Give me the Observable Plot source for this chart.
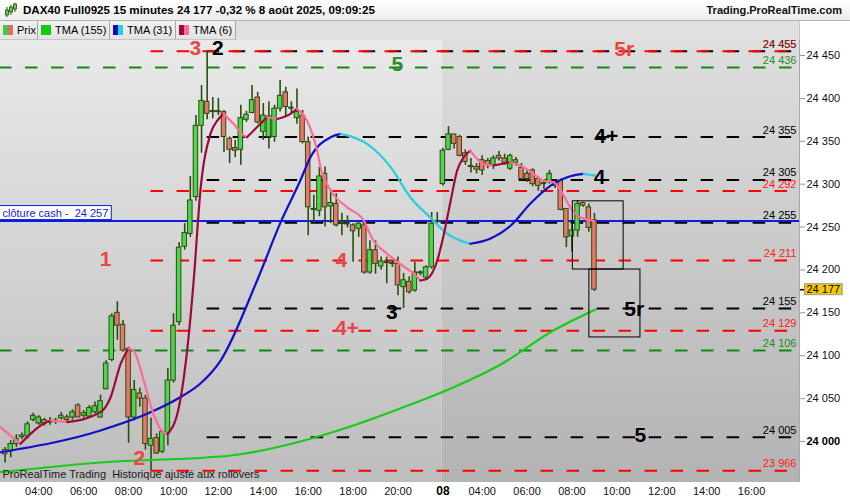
<!DOCTYPE html>
<html><head><meta charset="utf-8">
<script src="https://cdn.jsdelivr.net/npm/d3@7"></script>
<script src="https://cdn.jsdelivr.net/npm/@observablehq/plot@0.6"></script>
<style>
html,body{margin:0;padding:0;background:#fff;}
body{width:850px;height:500px;overflow:hidden;position:relative;font-family:"Liberation Sans",Arial,Helvetica,sans-serif;}
#row1{position:absolute;left:0;top:0;width:850px;height:20px;background:linear-gradient(#ffffff,#ececec);border-bottom:1px solid #b4b4b4;}
#title{position:absolute;left:23px;top:3px;font-size:11.6px;line-height:14px;font-weight:bold;color:#000;white-space:pre;}
#brand{position:absolute;right:8px;top:3px;font-size:11px;line-height:14px;font-weight:bold;color:#111;}
#row2{position:absolute;left:0;top:21px;width:799px;height:19px;background:#e0e0e0;border-right:1px solid #c8c8c8;}
.item{position:absolute;top:0;height:18px;border-right:1px solid #a8a8a8;border-bottom:1px solid #c4c4c4;background:linear-gradient(#f1f1f1,#e3e3e3);font-size:11px;line-height:18px;color:#000;}
.item i{position:absolute;left:3px;top:4px;width:10px;height:10px;}
.item span{position:absolute;left:17px;top:0;white-space:pre;}
#chart{position:absolute;left:0;top:40px;}
</style></head><body>
<div id="row1">
  <svg width="14" height="15" style="position:absolute;left:4px;top:3px">
    <line x1="3" y1="4" x2="3" y2="14" stroke="#2d4d10"/><rect x="1.5" y="7" width="3" height="5" fill="#4cd64c" stroke="#2d4d10" stroke-width="0.8"/>
    <line x1="7" y1="2" x2="7" y2="12" stroke="#2d4d10"/><rect x="5.5" y="4" width="3" height="5" fill="#4cd64c" stroke="#2d4d10" stroke-width="0.8"/>
    <line x1="11" y1="0" x2="11" y2="9" stroke="#2d4d10"/><rect x="9.5" y="1" width="3" height="5" fill="#4cd64c" stroke="#2d4d10" stroke-width="0.8"/>
  </svg>
  <span id="title">DAX40 Full0925 15 minutes 24 177 -0,32 % 8 août 2025, 09:09:25</span>
  <span id="brand">Trading.ProRealTime.com</span>
</div>
<div id="row2">
  <div class="item" style="left:0;width:37px"><i style="background:linear-gradient(90deg,#46c846 50%,#e46a6a 50%)"></i><span>Prix</span></div>
  <div class="item" style="left:38px;width:71px"><i style="background:#10cc10"></i><span>TMA (155)</span></div>
  <div class="item" style="left:110px;width:65px"><i style="background:linear-gradient(90deg,#0a0ac0 50%,#22d2e0 50%)"></i><span>TMA (31)</span></div>
  <div class="item" style="left:176px;width:59px"><i style="background:linear-gradient(90deg,#9c0a3c 50%,#ff6a9a 50%)"></i><span>TMA (6)</span></div>
</div>
<div id="chart"></div>
<script>
// ---------------- DATA ----------------
// 15-minute bars, bar index 1 = 7 Aug 02:30 ... bar 79 = 8 Aug 02:15, bar 106 = 8 Aug 09:00
const firstBar = 1;
const candleOpen = [23990,23989,23997,24005,24006,24025,24021,24025,24022,24023,
 24027,24028,24028,24042,24030,24029,24034,24028,24061,24095,
 24150,24136,24108,24028,24056,24050,23995,24004,23988,24009,
 24071,24139,24227,24242,24285,24368,24396,24384,24384,24384,
 24353,24342,24340,24375,24383,24401,24361,24355,24355,24388,
 24407,24388,24377,24380,24349,24270,24269,24312,24274,24277,
 24255,24253,24252,24248,24252,24197,24223,24204,24208,24207,
 24207,24180,24186,24176,24196,24191,24203,24256,24300,24340,
 24358,24355,24336,24320,24320,24328,24327,24322,24333,24330,
 24318,24325,24319,24312,24316,24306,24301,24302,24299,24304,
 24271,24239,24246,24278,24273,24258];
const candleHigh = [23993,24001,24008,24010,24023,24033,24030,24027,24028,24027,
 24034,24031,24037,24044,24036,24042,24046,24054,24094,24149,
 24163,24141,24110,24071,24062,24054,24027,24009,24013,24085,
 24149,24232,24254,24309,24380,24415,24455,24401,24400,24386,
 24355,24351,24392,24385,24415,24407,24394,24396,24392,24421,
 24413,24396,24411,24386,24355,24287,24320,24320,24294,24289,
 24266,24263,24254,24256,24256,24234,24234,24215,24215,24211,
 24215,24196,24192,24209,24199,24205,24267,24267,24342,24367,
 24358,24357,24340,24330,24324,24333,24330,24333,24338,24335,
 24335,24331,24324,24316,24318,24308,24304,24316,24303,24306,
 24271,24254,24281,24279,24277,24266];
const candleLow = [23975,23981,23993,24002,24003,24023,24019,24018,24019,24020,
 24025,24022,24025,24028,24027,24027,24032,24027,24060,24093,
 24118,24104,23998,24024,24040,23990,23966,23985,23986,23995,
 24068,24135,24223,24238,24280,24336,24375,24376,24380,24337,
 24324,24331,24322,24372,24382,24370,24351,24341,24349,24384,
 24378,24381,24370,24347,24240,24254,24262,24250,24254,24250,
 24240,24249,24209,24238,24195,24195,24195,24200,24184,24203,
 24170,24155,24172,24174,24193,24188,24201,24254,24298,24339,
 24341,24332,24322,24313,24312,24310,24318,24317,24327,24322,
 24316,24321,24304,24302,24297,24292,24294,24300,24295,24269,
 24226,24221,24238,24273,24244,24175];
const candleClose = [23985,23997,24003,24007,24020,24030,24028,24021,24023,24023,
 24030,24025,24034,24028,24033,24039,24041,24047,24091,24146,
 24135,24106,24028,24060,24050,23997,24003,23986,24011,24071,
 24135,24226,24243,24281,24368,24397,24382,24385,24385,24355,
 24340,24339,24377,24381,24398,24372,24380,24379,24388,24403,
 24390,24389,24384,24349,24273,24271,24309,24273,24278,24252,
 24256,24254,24245,24254,24197,24223,24207,24210,24209,24208,
 24182,24188,24174,24197,24197,24203,24254,24257,24339,24358,
 24347,24333,24326,24321,24317,24316,24322,24330,24330,24325,
 24333,24328,24306,24306,24300,24298,24300,24312,24298,24270,
 24238,24246,24277,24275,24249,24177];

// moving averages (bar position, value)
const tma6X = [0.18,3.74,7.9,9.1,12.1,18.0,19.8,21.6,23.0,23.9,25.7,27.4,29.2,29.9,31.7,33.5,34.6,35.8,37.6,38.8,39.9,41.7,43.5,44.1,46.5,47.7,49.5,51.3,53.0,54.8,56.6,57.2,59.0,61.95,64.9,66.6,69.1,71.4,73.8,75.0,76.2,78.0,79.2,80.4,81.5,82.7,83.9,86.2,88.0,91.0,92.8,95.1,96.9,98.7,100.0,101.7,103.5,105.8];
const tma6V = [24016.7,23997.3,24021.0,24024.5,24022.5,24034.2,24051.6,24090.9,24108.4,24106.0,24071.0,24032.6,24010.8,24009.0,24032.6,24110.0,24187.7,24292.6,24359.0,24374.0,24382.0,24370.4,24356.7,24354.8,24370.4,24378.0,24376.0,24380.0,24387.9,24374.0,24339.0,24319.8,24292.6,24273.0,24257.6,24234.3,24218.8,24207.0,24195.5,24187.7,24189.7,24211.0,24242.5,24281.0,24315.0,24331.4,24339.2,24323.7,24321.8,24325.6,24321.8,24312.4,24304.3,24302.3,24292.6,24273.0,24261.5,24257.6];
const tma31X = [0.18,18.0,26.9,32.2,35.8,39.4,45.9,50.1,53.6,55.4,59.0,60.8,65.5,69.7,73.2,76.8,79.8,82.1,83.9,87.5,91.1,94.6,98.2,101.7,104.1,106.2];
const tma31V = [23987.5,24012.8,24034.0,24051.6,24067.6,24094.4,24187.7,24255.7,24304.3,24331.4,24354.8,24358.7,24347.0,24319.8,24284.8,24261.0,24242.0,24234.3,24230.5,24236.7,24251.8,24277.5,24298.4,24309.3,24312.0,24310.0];
const tma155X = [0.18,18.0,41.2,53.6,62.5,71.4,80.4,89.3,98.7,106.2];
const tma155V = [23964.2,23975.5,23983.7,24000.0,24017.5,24038.5,24061.8,24089.8,24129.4,24153.9];

// horizontal levels
const levelPrice = [24455,24455,24436,24355,24305,24292,24255,24211,24155,24129,24106,24005,23966];
const levelKind  = ["b","r","g","b","b","r","b","r","b","r","g","b","r"];
const levelStart = [37,27,0,37,37,27,37,27,37,27,0,37,27];
const cashClose = 24257;
const cashText = "clôture cash -  ";
const lastPrice = 24177;

// annotations
const annText  = ["3","2","5","5r","4+","4","1","4","3","4+","5r","2","5"];
const annBar   = [34.9,38.9,70.9,111.3,108.1,106.9,18.9,60.9,69.9,61.9,113.1,24.9,114.2];
const annPrice = [24458,24458,24440,24457.6,24356,24308.4,24212.8,24211,24151,24132.3,24154.5,23980,24007];
const annKind  = ["r","b","g","r","b","b","r","r","b","r","b","r","b"];

// range boxes
const boxStart = [102.15,105.1];
const boxEnd   = [111.2,114.2];
const boxHigh  = [24280,24200.5];
const boxLow   = [24200.5,24121.3];

// axes
const yTicks = [24050,24100,24150,24200,24250,24300,24350,24400,24450];
const yTickBold = [24000];
const xTickBars = [7,15,23,31,39,47,55,63,71,86,94,102,110,118,126,134];
const xTickLabels = ["04:00","06:00","08:00","10:00","12:00","14:00","16:00","18:00","20:00","04:00","06:00","08:00","10:00","12:00","14:00","16:00"];
const dayBars = [79];
const dayLabels = ["08"];
const sessionBreak = 78.9;
const footer = "ProRealTime Trading  Historique ajusté aux rollovers";

// ---------------- BUILD ----------------
const fmt = d3.formatLocale({decimal:",", thousands:"\u00a0", grouping:[3], currency:["",""]}).format(",.0f");
const xDomain = [1/5.6125, 800/5.6125];
const yDomain = [23952.2, 24467.5];

const upFill = "#4cd64c", downFill = "#e8766a", edge = "#2d4d10";
const candles = candleOpen.map((o,k)=>({i:firstBar+k, o, h:candleHigh[k], l:candleLow[k], c:candleClose[k]}));

const lineColor = {r:"#ff0000", b:"#000000", g:"#108a10"};
const labelColor = {r:"#ff1a1a", b:"#000000", g:"#1e8c1e"};
const annColor = {r:"#e84545", b:"#000000", g:"#2a8c2a"};
const levels = levelPrice.map((p,k)=>({price:p, kind:levelKind[k], start:levelStart[k]}));
const anns = annText.map((t,k)=>({t, x:annBar[k], y:annPrice[k], kind:annKind[k]}));
const boxes = boxStart.map((s,k)=>({x1:s, x2:boxEnd[k], y1:boxLow[k], y2:boxHigh[k]}));
const sessions = [{x1:xDomain[0], x2:sessionBreak, fill:"url(#bgDay1)"},{x1:sessionBreak, x2:xDomain[1], fill:"url(#bgDay2)"}];

function maRuns(xs, vs, up, down){
  const rows=[]; let run=0, prev=null;
  for(let k=1;k<xs.length;k++){
    const dir = vs[k]>=vs[k-1] ? "up":"down";
    const col = dir==="up"?up:down;
    if(prev!==null && dir!==prev) run++;
    if(prev===null || dir!==prev) rows.push({x:xs[k-1], y:vs[k-1], run, color:col});
    rows.push({x:xs[k], y:vs[k], run, color:col});
    prev=dir;
  }
  return rows;
}
const ma155 = maRuns(tma155X, tma155V, "#18cc18", "#18cc18");
const ma31 = maRuns(tma31X, tma31V, "#1010c8", "#25d0dc");
const ma6 = maRuns(tma6X, tma6V, "#9c0a3c", "#ff6a9a");

const font = "Liberation Sans, Arial, Helvetica, sans-serif";

const chart = Plot.plot({
  width: 850, height: 460,
  marginTop: 0, marginBottom: 18, marginLeft: 0, marginRight: 51,
  x: {domain: xDomain, axis: null},
  y: {domain: yDomain, axis: null},
  color: {type: "identity"},
  style: {fontFamily: font, fontSize: "11px", background: "transparent", overflow: "visible"},
  marks: [
    Plot.rect(sessions, {x1:"x1", x2:"x2", y1:()=>yDomain[0], y2:()=>yDomain[1], fill:"fill"}),
    Plot.ruleY(levels, {y:"price", x1:"start", x2:()=>xDomain[1], stroke:d=>lineColor[d.kind], strokeWidth:2, strokeDasharray:"12.5,13.5"}),
    Plot.ruleY([cashClose], {y:d=>d, stroke:"#0a1ee0", strokeWidth:2}),
    Plot.ruleX(candles, {x:"i", y1:"l", y2:"h", stroke:edge, strokeWidth:1.6}),
    Plot.rect(candles, {x1:d=>d.i-0.4, x2:d=>d.i+0.4, y1:d=>Math.min(d.o,d.c), y2:d=>Math.max(Math.max(d.o,d.c), Math.min(d.o,d.c)+1.2), fill:d=>d.c>=d.o?upFill:downFill, stroke:edge, strokeWidth:1}),
    Plot.line(ma155, {x:"x", y:"y", z:"run", stroke:"color", strokeWidth:2.2, curve:"monotone-x"}),
    Plot.line(ma31, {x:"x", y:"y", z:"run", stroke:"color", strokeWidth:2.2, curve:"monotone-x"}),
    Plot.line(ma6, {x:"x", y:"y", z:"run", stroke:"color", strokeWidth:2.2, curve:"monotone-x"}),
    Plot.rect(boxes, {x1:"x1", x2:"x2", y1:"y1", y2:"y2", fill:"none", stroke:"#000", strokeWidth:1}),
    Plot.text(levels, {x:()=>xDomain[1], y:"price", text:d=>fmt(d.price), textAnchor:"end", dx:-3, dy:-7, fill:d=>labelColor[d.kind], fillOpacity:d=>d.kind==="r"&&d.price===24455?0.55:1, fontSize:11}),
    Plot.text(anns, {x:"x", y:"y", text:"t", fill:d=>annColor[d.kind], fontSize:21, fontWeight:"bold"}),
    Plot.text([cashClose], {x:()=>xDomain[0], y:d=>d, text:d=>cashText+fmt(d), textAnchor:"start", dx:2, dy:-8, fill:"#1a1acc", fontSize:11}),
    Plot.text([footer], {frameAnchor:"bottom-left", text:d=>d, textAnchor:"start", dx:2, dy:-4.5, fill:"#1a1a1a", fontSize:11}),
    Plot.axisY(yTicks, {anchor:"right", tickSize:5, tickPadding:2, tickFormat:fmt, fontSize:11, fill:"#111", stroke:"#999"}),
    Plot.axisY(yTickBold, {anchor:"right", tickSize:5, tickPadding:2, tickFormat:fmt, fontSize:11, fontWeight:"bold", fill:"#000", stroke:"#999"}),
    Plot.axisY([lastPrice], {anchor:"right", tickSize:5, tickPadding:2, tickFormat:fmt, fontSize:11, fill:"#000", stroke:"#000", strokeWidth:1.5}),
    Plot.ruleX([xDomain[1]], {x:d=>d, stroke:"#a8a8a8", strokeWidth:1}),
    Plot.text(xTickBars, {x:d=>d, text:(d,i)=>xTickLabels[i], frameAnchor:"bottom", dy:12.5, fill:"#111", fontSize:11}),
    Plot.text(dayBars, {x:d=>d, text:(d,i)=>dayLabels[i], frameAnchor:"bottom", dy:12.5, fill:"#000", fontSize:12, fontWeight:"bold"})
  ]
});
document.getElementById("chart").append(chart);

// gradients for the two session backgrounds
const svgSel = d3.select(chart);
const defs = svgSel.insert("defs", ":first-child");
[["bgDay1","#e9e9e9","#bdbdbd"],["bgDay2","#dedede","#b3b3b3"]].forEach(([id,a,b])=>{
  const g = defs.append("linearGradient").attr("id",id).attr("x1",0).attr("y1",0).attr("x2",0).attr("y2",1);
  g.append("stop").attr("offset","0%").attr("stop-color",a);
  g.append("stop").attr("offset","100%").attr("stop-color",b);
});

// boxes behind the cash label and the last-price tag (sized from the rendered text)
function boxBehind(textEl, fill, stroke, padL, padR, padY){
  const sb = chart.getBoundingClientRect();
  const b = textEl.getBoundingClientRect();
  const grp = textEl.parentNode;
  chart.appendChild(grp);
  const r = document.createElementNS("http://www.w3.org/2000/svg","rect");
  r.setAttribute("x", b.left - sb.left - padL);
  r.setAttribute("y", b.top - sb.top - padY);
  r.setAttribute("width", b.width + padL + padR);
  r.setAttribute("height", b.height + padY*2);
  r.setAttribute("fill", fill);
  r.setAttribute("stroke", stroke);
  r.setAttribute("stroke-width", 1);
  chart.insertBefore(r, grp);
}
const norm = s => s.replace(/\s/g,"");
const allText = Array.from(chart.querySelectorAll("text"));
const cashEl = allText.find(t => t.textContent.startsWith("clôture"));
if (cashEl) boxBehind(cashEl, "#ffffff", "#0a1ee0", 3, 3, 1);
const tagEl = allText.find(t => norm(t.textContent) === norm(fmt(lastPrice)));
if (tagEl) boxBehind(tagEl, "#f7c800", "#9a9a9a", 2, 2, -0.5);
</script>
</body></html>
